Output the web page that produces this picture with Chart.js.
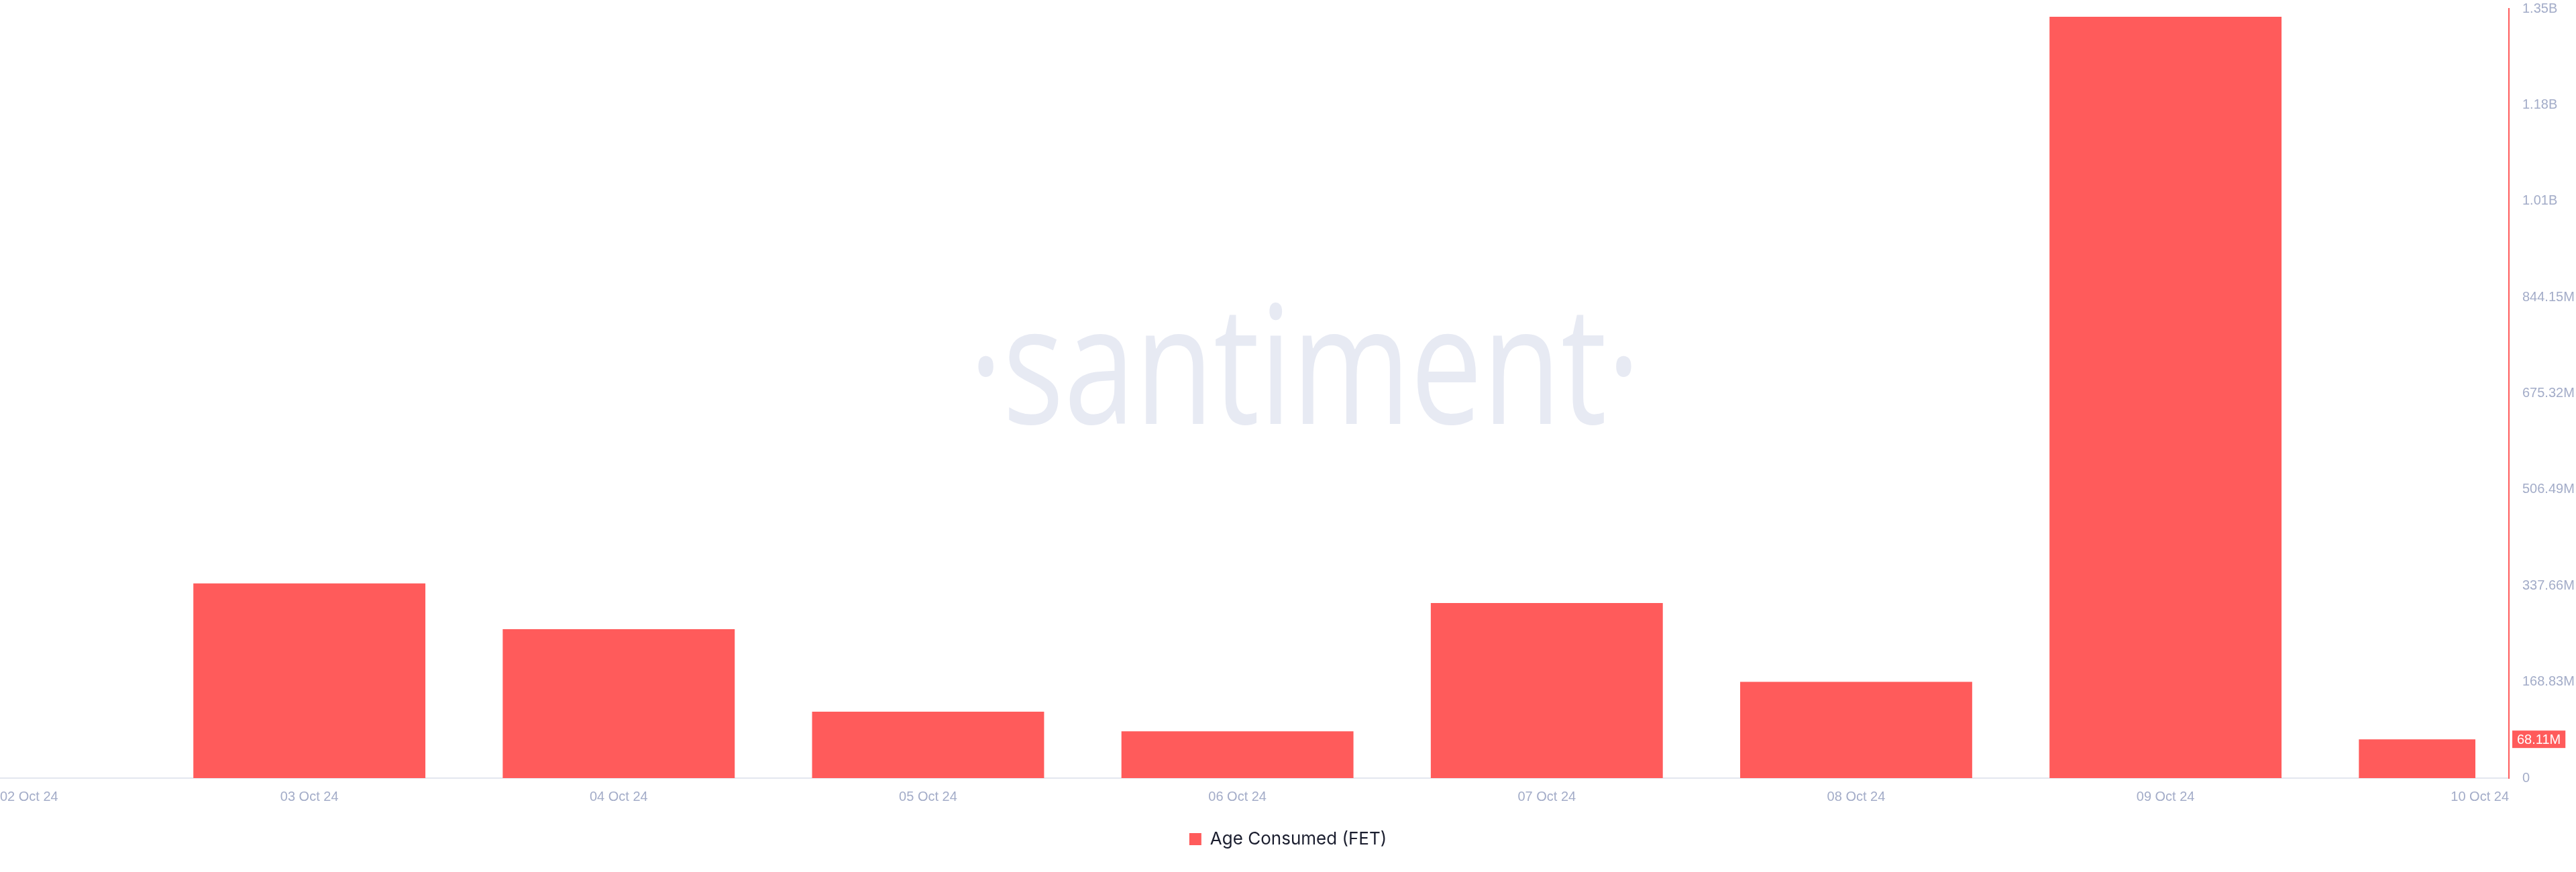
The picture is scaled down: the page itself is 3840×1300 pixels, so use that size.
<!DOCTYPE html>
<html>
<head>
<meta charset="utf-8">
<title>Age Consumed (FET)</title>
<script src="https://cdn.jsdelivr.net/npm/chart.js@4.4.1/dist/chart.umd.min.js"></script>
<style>
  html, body { margin: 0; padding: 0; background: #fff; }
  #wrap { width: 3840px; height: 1300px; }
</style>
</head>
<body>
<div id="wrap"><canvas id="chart"></canvas></div>
<script>
// Age Consumed (FET), daily bars

const dates = ['02 Oct 24', '03 Oct 24', '04 Oct 24', '05 Oct 24', '06 Oct 24', '07 Oct 24', '08 Oct 24', '09 Oct 24', '10 Oct 24'];
const ageConsumed = [null, 341.8e6, 261.3e6, 116.7e6, 82.1e6, 307.3e6, 168.9e6, 1336.5e6, 68.11e6];
const yTickValues = [0, 168.83e6, 337.66e6, 506.49e6, 675.32e6, 844.15e6, 1012.98e6, 1181.81e6, 1350.64e6];
const yTickLabels = ['0', '168.83M', '337.66M', '506.49M', '675.32M', '844.15M', '1.01B', '1.18B', '1.35B'];

const RED = '#ff5b5b';
const AXIS_TEXT = '#a3acc8';
const AXIS_FONT = { family: '"Liberation Sans", Arial, sans-serif', size: 20 };

function fmtShort(v) {
  if (v >= 1e9) return (v / 1e9).toFixed(2) + 'B';
  if (v >= 1e6) return (v / 1e6).toFixed(2) + 'M';
  return String(v);
}

// faint logo behind the bars
const watermark = {
  id: 'watermark',
  beforeDatasetsDraw(chart) {
    const { ctx, chartArea } = chart;
    ctx.save();
    ctx.fillStyle = '#e7eaf3';
    ctx.font = '400 245px "Open Sans", sans-serif';
    ctx.textAlign = 'center';
    ctx.textBaseline = 'alphabetic';
    ctx.translate((chartArea.left + chartArea.right) / 2 + 75, 632);
    ctx.scale(0.78, 1);
    ctx.fillText('·santiment·', 0, 0);
    ctx.restore();
  }
};

// last value badge on the right axis
const lastBadge = {
  id: 'lastBadge',
  afterDraw(chart) {
    const { ctx } = chart;
    const y = chart.scales.y;
    const v = ageConsumed[ageConsumed.length - 1];
    const py = y.getPixelForValue(v);
    const label = fmtShort(v);
    ctx.save();
    ctx.font = `${AXIS_FONT.size}px ${AXIS_FONT.family}`;
    const tw = ctx.measureText(label).width;
    const x0 = y.left + 12;
    ctx.fillStyle = RED;
    ctx.fillRect(x0 - 7, py - 13, tw + 14, 26);
    ctx.fillStyle = '#fff';
    ctx.textAlign = 'left';
    ctx.textBaseline = 'middle';
    ctx.fillText(label, x0, py + 1);
    ctx.restore();
  }
};

new Chart(document.getElementById('chart'), {
  type: 'bar',
  data: {
    datasets: [{
      label: 'Age Consumed (FET)',
      data: ageConsumed.map((v, i) => ({ x: i, y: v })),
      backgroundColor: RED,
      borderWidth: 0,
      categoryPercentage: 1,
      barPercentage: 0.75,
      clip: { left: 0, top: false, right: -50, bottom: 0 },
    }]
  },
  options: {
    responsive: true, maintainAspectRatio: false, devicePixelRatio: 1,
    animation: false,
    layout: { padding: { top: 13, bottom: 26, left: 0, right: 0 } },
    plugins: {
      tooltip: { enabled: false },
      legend: {
        display: true, position: 'bottom',
        labels: {
          boxWidth: 18, boxHeight: 18, padding: 10, color: '#1b1e2f',
          font: { family: 'Inter, "Noto Sans", sans-serif', size: 26 },
        },
      },
    },
    scales: {
      x: {
        type: 'linear', min: 0, max: 8.11, offset: false,
        grid: { display: false, offset: false },
        border: { display: true, color: '#e3e6ef', width: 2 },
        ticks: {
          align: 'inner', padding: 8, color: AXIS_TEXT, font: AXIS_FONT,
          includeBounds: false, maxRotation: 0, autoSkip: false,
          callback: (v) => dates[Math.round(v)] ?? '',
        },
        afterBuildTicks: (scale) => {
          scale.ticks = dates.map((d, i) => ({ value: i === dates.length - 1 ? scale.max : i }));
        },
        afterFit: (scale) => { scale.height = 68; scale.paddingLeft = 0; scale.paddingRight = 0; },
      },
      y: {
        position: 'right', min: 0, max: yTickValues[yTickValues.length - 1],
        grid: { display: false },
        border: { display: true, color: RED, width: 2 },
        ticks: {
          padding: 12, color: AXIS_TEXT, font: AXIS_FONT, autoSkip: false,
          callback: (v, i) => yTickLabels[i],
        },
        afterBuildTicks: (scale) => { scale.ticks = yTickValues.map(v => ({ value: v })); },
        afterFit: (scale) => { scale.width = 100; scale.paddingTop = 0; scale.paddingBottom = 0; },
      },
    },
  },
  plugins: [watermark, lastBadge],
});
</script>
</body>
</html>
